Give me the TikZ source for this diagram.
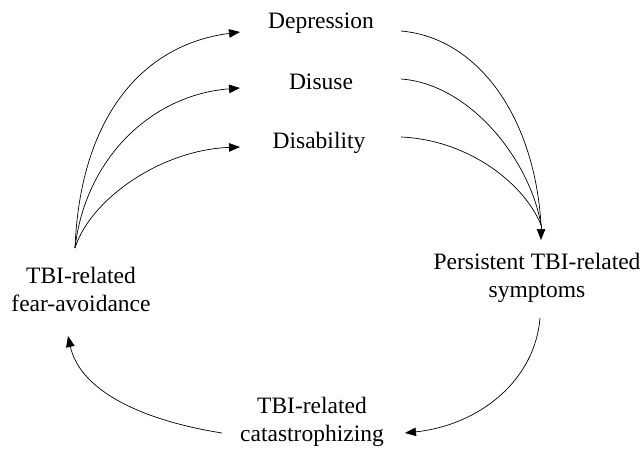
\documentclass[tikz,border=0pt]{standalone}
\usepackage{fontspec}
\setmainfont{Liberation Serif}
\usetikzlibrary{arrows.meta}
\begin{document}
\begin{tikzpicture}[x=1pt,y=-1pt,
  lbl/.style={font=\fontsize{23.5}{28}\selectfont, align=center, inner sep=0pt},
  arr/.style={-{Triangle[length=11pt,width=8.5pt]}, line width=0.7pt},
  ln/.style={line width=0.7pt}]
\useasboundingbox[fill=white] (0,0) rectangle (642,449);
% labels
\node[lbl] (dep) at (321,23) {Depression};
\node[lbl] (dis) at (321,82) {Disuse};
\node[lbl] (dab) at (319,143) {Disability};
\node[lbl] (fav) at (81,289) {TBI-related\\fear-avoidance};
\node[lbl] (sym) at (537,278) {Persistent TBI-related\\symptoms};
\node[lbl] (cat) at (312,422) {TBI-related\\catastrophizing};
% connector ends
\coordinate (favtop) at (75,248);
\coordinate (depin) at (240,32);
\coordinate (disin) at (240,88);
\coordinate (dabin) at (240,147);
\coordinate (depout) at (401,31);
\coordinate (disout) at (401,79);
\coordinate (dabout) at (401,137);
\coordinate (symjoin) at (541,225);
\coordinate (symin) at (541,240);
\coordinate (symout) at (540,318);
\coordinate (catin) at (405,433);
\coordinate (catout) at (222,433);
\coordinate (favin) at (68,336);
% left fan
\draw[arr] (favtop) .. controls (80,120) and (140,45) .. (depin);
\draw[arr] (favtop) .. controls (85,160) and (150,95) .. (disin);
\draw[arr] (favtop) .. controls (90,200) and (160,150) .. (dabin);
% right fan
\draw[ln] (depout) .. controls (480,38) and (535,120) .. (symjoin);
\draw[ln] (disout) .. controls (470,84) and (530,160) .. (symjoin);
\draw[ln] (dabout) .. controls (470,140) and (525,185) .. (symjoin);
\draw[arr] (symjoin) -- (symin);
% cycle bottom
\draw[arr] (symout) .. controls (535,380) and (480,425) .. (catin);
\draw[arr] (catout) .. controls (140,420) and (80,390) .. (favin);
\end{tikzpicture}
\end{document}
